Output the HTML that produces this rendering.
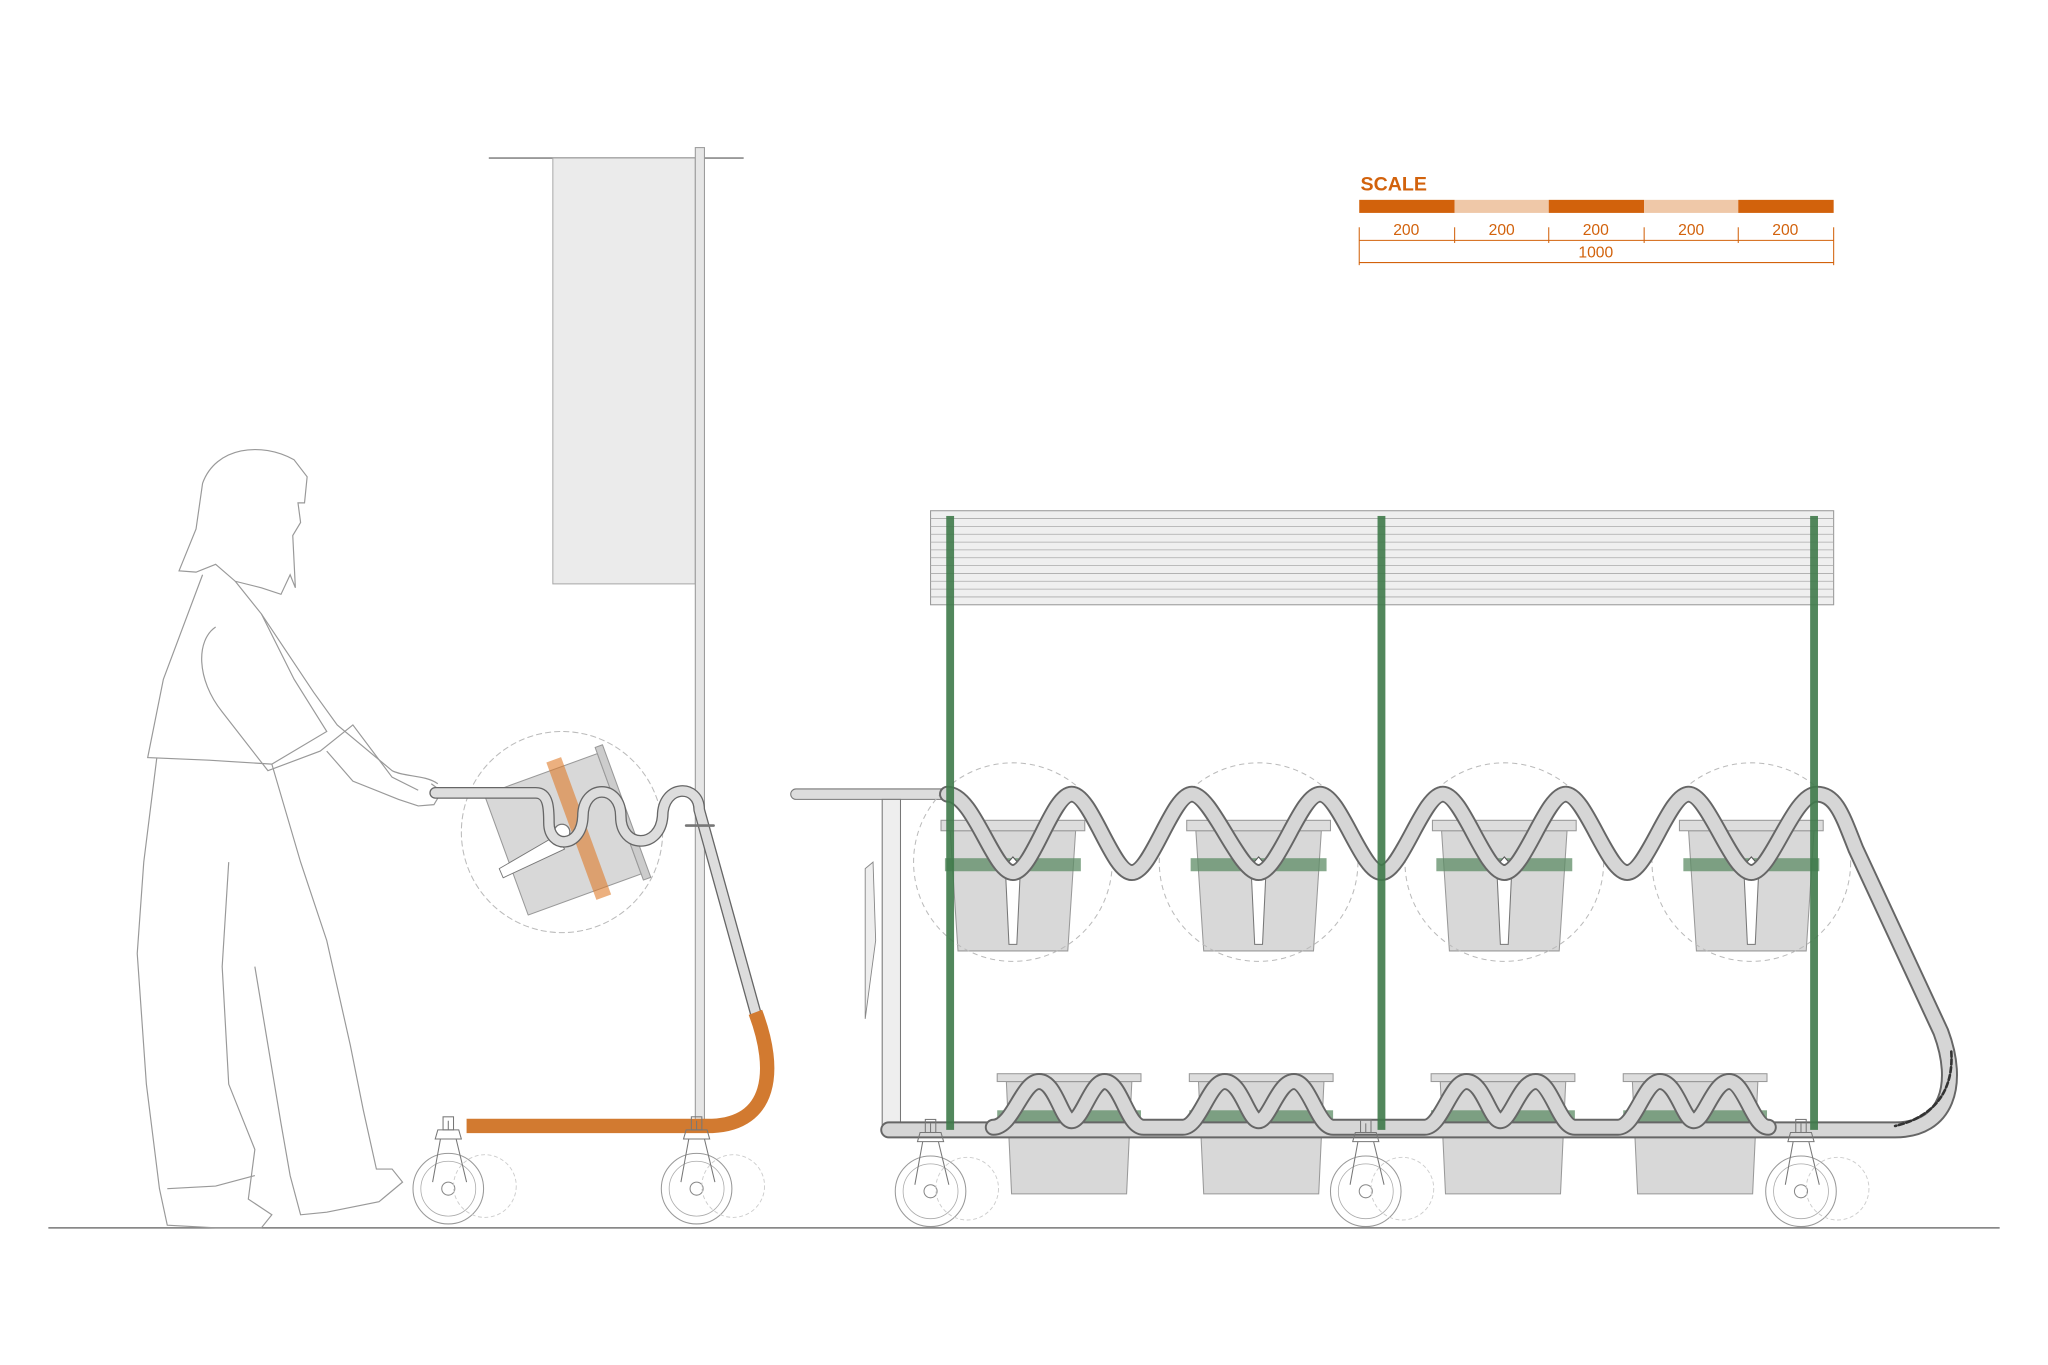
<!DOCTYPE html>
<html><head><meta charset="utf-8"><style>
html,body{margin:0;padding:0;background:#fff;}
svg{display:block;}
</style></head><body>
<svg width="2048" height="1365" viewBox="0 0 1567 1045" preserveAspectRatio="none" xmlns="http://www.w3.org/2000/svg" font-family="Liberation Sans, sans-serif">
<defs>
<g id="wheel">
 <circle cx="0" cy="0" r="27" fill="none" stroke="#999" stroke-width="0.8"/>
 <circle cx="0" cy="0" r="21" fill="none" stroke="#aaa" stroke-width="0.6"/>
 <circle cx="0" cy="0" r="5" fill="none" stroke="#888" stroke-width="0.8"/>
 <circle cx="28" cy="-2" r="24" fill="none" stroke="#ccc" stroke-width="0.7" stroke-dasharray="3 2"/>
 <path d="M-8,-45 L8,-45 L10,-38 L-10,-38 Z M-6,-38 L-12,-5 M6,-38 L14,-5 M0,-52 L0,-45" fill="none" stroke="#777" stroke-width="0.8"/>
 <rect x="-4" y="-55" width="8" height="10" fill="none" stroke="#777" stroke-width="0.8"/>
</g>
<g id="ubucket">
 <path d="M-48,6 L48,6 L42,98 L-42,98 Z" fill="#d8d8d8" stroke="#999" stroke-width="0.8"/>
 <rect x="-55" y="-2" width="110" height="8" fill="#ddd" stroke="#999" stroke-width="0.8"/>
 <rect x="-52" y="27" width="104" height="10" fill="#5e8c66" opacity="0.75"/>
 <path d="M-6,30 L6,30 L3,93 L-3,93 Z" fill="#fff" stroke="#777" stroke-width="0.8"/>
 <path d="M0,26 L6,33 L0,40 L-6,33 Z" fill="#fff" stroke="#555" stroke-width="0.8"/>
 <circle cx="0" cy="30" r="76" fill="none" stroke="#bbb" stroke-width="0.8" stroke-dasharray="4 3"/>
</g>
<g id="lbucket">
 <path d="M-48,6 L48,6 L44,92 L-44,92 Z" fill="#d8d8d8" stroke="#999" stroke-width="0.8"/>
 <rect x="-55" y="0" width="110" height="6" fill="#ddd" stroke="#999" stroke-width="0.8"/>
 <rect x="-55" y="28" width="110" height="10" fill="#5e8c66" opacity="0.75"/>
</g>
</defs>

<line x1="37" y1="940" x2="1530" y2="940" stroke="#777" stroke-width="1.2"/>

<text x="1041" y="146" font-size="15" font-weight="bold" fill="#d2620c">SCALE</text>
<rect x="1040" y="153" width="73" height="10" fill="#d2620c"/>
<rect x="1113" y="153" width="72" height="10" fill="#efc8a8"/>
<rect x="1185" y="153" width="73" height="10" fill="#d2620c"/>
<rect x="1258" y="153" width="72" height="10" fill="#efc8a8"/>
<rect x="1330" y="153" width="73" height="10" fill="#d2620c"/>
<g stroke="#d2620c" stroke-width="0.8" fill="none">
<line x1="1040" y1="184" x2="1403" y2="184"/>
<line x1="1040" y1="201" x2="1403" y2="201"/>
<line x1="1040" y1="174" x2="1040" y2="203"/>
<line x1="1113" y1="174" x2="1113" y2="186"/>
<line x1="1185" y1="174" x2="1185" y2="186"/>
<line x1="1258" y1="174" x2="1258" y2="186"/>
<line x1="1330" y1="174" x2="1330" y2="186"/>
<line x1="1403" y1="174" x2="1403" y2="203"/>
</g>
<g font-size="12" fill="#d2620c" text-anchor="middle">
<text x="1076" y="180">200</text><text x="1149" y="180">200</text><text x="1221" y="180">200</text><text x="1294" y="180">200</text><text x="1366" y="180">200</text>
<text x="1221" y="197">1000</text>
</g>

<line x1="374" y1="121" x2="569" y2="121" stroke="#999" stroke-width="1.5"/>
<rect x="423" y="121" width="109" height="326" fill="#ebebeb" stroke="#aaa" stroke-width="0.8"/>
<rect x="532" y="113" width="7" height="748" fill="#e6e6e6" stroke="#999" stroke-width="0.8"/>

<g fill="none" stroke="#999" stroke-width="0.9">
<path d="M137,437 L150,405 L155,370 C165,342 200,338 225,352 L235,365 L233,385 L228,385 L230,400 L224,410 L226,450 L222,440 L215,455 L200,450 L180,445 L165,432 L150,438 Z"/>
<path d="M155,440 L125,520 L113,580 L160,582 L208,585 L250,560 L225,520 L200,470 L180,445"/>
<path d="M165,480 C150,490 150,520 170,545 L205,590 L245,575 L270,555 L300,595 L320,605"/>
<path d="M200,470 L240,530 L258,555 L300,590 C310,595 325,593 335,600"/>
<path d="M330,600 L338,606 L332,616 L320,617 L305,612 L270,598 L250,575"/>
<path d="M120,580 L110,660 L105,730 L112,830 L122,910 L128,938 L165,940 L200,940 L208,930 L190,918 L195,880 L175,830 L170,740 L175,660"/>
<path d="M208,585 L230,660 L250,720 L268,800 L278,850 L288,895 L300,895 L308,905 L290,920 L250,928 L230,930 L222,900 L215,860 L205,800 L195,740"/>
<path d="M128,910 L165,908 L195,900"/>
</g>

<g fill="none" stroke-linecap="round" stroke-linejoin="round">
<g transform="rotate(-20 430 640)">
 <circle cx="430" cy="637" r="77" fill="none" stroke="#bbb" stroke-width="0.8" stroke-dasharray="4 3" transform="rotate(20 430 640)"/>
 <rect x="385" y="590" width="92" height="98" fill="#d8d8d8" stroke="#999" stroke-width="0.8"/>
 <rect x="477" y="585" width="6" height="108" fill="#ccc" stroke="#999" stroke-width="0.8"/>
 <rect x="438" y="583" width="12" height="112" fill="#e07c2a" opacity="0.6"/>
</g>
<path d="M382,665 L425,640 L432,650 L385,672 Z" fill="#fff" stroke="#777" stroke-width="0.7"/>
<circle cx="430" cy="637" r="6" fill="#fff" stroke="#777"/>
<path d="M333,607 L410,607 C420,607 420,620 420,630 C420,650 445,650 446,625 C446,600 475,600 475,625 C475,650 505,650 507,625 C507,600 535,600 535,620 L578,775" stroke="#666" stroke-width="9"/>
<path d="M333,607 L410,607 C420,607 420,620 420,630 C420,650 445,650 446,625 C446,600 475,600 475,625 C475,650 505,650 507,625 C507,600 535,600 535,620 L578,775" stroke="#ddd" stroke-width="7"/>
<line x1="525" y1="632" x2="546" y2="632" stroke="#777" stroke-width="2"/>
<path d="M578,775 C595,820 590,860 545,862 L357,862" stroke="#d27a30" stroke-width="11" stroke-linecap="butt"/>
</g>
<use href="#wheel" x="343" y="910"/>
<use href="#wheel" x="533" y="910"/>

<rect x="712" y="391" width="691" height="72" fill="#efefef" stroke="#999" stroke-width="0.8"/>
<g stroke="#aaa" stroke-width="0.6">
<line x1="712" y1="397" x2="1403" y2="397"/><line x1="712" y1="403" x2="1403" y2="403"/><line x1="712" y1="409" x2="1403" y2="409"/><line x1="712" y1="415" x2="1403" y2="415"/><line x1="712" y1="421" x2="1403" y2="421"/><line x1="712" y1="427" x2="1403" y2="427"/><line x1="712" y1="433" x2="1403" y2="433"/><line x1="712" y1="439" x2="1403" y2="439"/><line x1="712" y1="445" x2="1403" y2="445"/><line x1="712" y1="451" x2="1403" y2="451"/><line x1="712" y1="457" x2="1403" y2="457"/>
</g>

<rect x="605" y="604" width="122" height="8" rx="4" fill="#ddd" stroke="#777" stroke-width="0.8"/>
<rect x="675" y="612" width="14" height="250" fill="#eee" stroke="#777" stroke-width="0.8"/>
<path d="M662,665 L668,660 L670,720 L662,780 Z" fill="#eee" stroke="#888" stroke-width="0.7"/>

<use href="#ubucket" x="775" y="630"/>
<use href="#ubucket" x="963" y="630"/>
<use href="#ubucket" x="1151" y="630"/>
<use href="#ubucket" x="1340" y="630"/>
<use href="#lbucket" x="818" y="822"/>
<use href="#lbucket" x="965" y="822"/>
<use href="#lbucket" x="1150" y="822"/>
<use href="#lbucket" x="1297" y="822"/>

<g fill="none" stroke-linecap="round" stroke-linejoin="round">
<path d="M725,608 C745,608 760,668 775,668 C790,668 805,608 820,608 C835,608 851,668 866,668 C881,668 897,608 912,608 C927,608 948,668 963,668 C978,668 995,608 1010,608 C1025,608 1042,668 1057,668 C1072,668 1089,608 1104,608 C1119,608 1136,668 1151,668 C1166,668 1183,608 1198,608 C1213,608 1230,668 1245,668 C1260,668 1277,608 1292,608 C1307,608 1325,668 1340,668 C1355,668 1372,608 1390,608 C1405,608 1410,625 1420,650 L1485,790 C1500,830 1490,865 1450,865 L680,865" stroke="#666" stroke-width="13"/>
<path d="M725,608 C745,608 760,668 775,668 C790,668 805,608 820,608 C835,608 851,668 866,668 C881,668 897,608 912,608 C927,608 948,668 963,668 C978,668 995,608 1010,608 C1025,608 1042,668 1057,668 C1072,668 1089,608 1104,608 C1119,608 1136,668 1151,668 C1166,668 1183,608 1198,608 C1213,608 1230,668 1245,668 C1260,668 1277,608 1292,608 C1307,608 1325,668 1340,668 C1355,668 1372,608 1390,608 C1405,608 1410,625 1420,650 L1485,790 C1500,830 1490,865 1450,865 L680,865" stroke="#d6d6d6" stroke-width="10"/>
<path d="M760,863 C775,863 782,828 795,828 C808,828 812,858 820,858 C828,858 835,828 845,828 C858,828 862,863 875,863 L905,863 C918,863 925,828 937,828 C950,828 955,858 963,858 C971,858 978,828 990,828 C1002,828 1008,863 1020,863 L1090,863 C1103,863 1110,828 1122,828 C1135,828 1140,858 1148,858 C1156,858 1163,828 1175,828 C1187,828 1193,863 1205,863 L1238,863 C1251,863 1258,828 1270,828 C1283,828 1288,858 1296,858 C1304,858 1311,828 1323,828 C1335,828 1341,863 1353,863" stroke="#666" stroke-width="13"/>
<path d="M760,863 C775,863 782,828 795,828 C808,828 812,858 820,858 C828,858 835,828 845,828 C858,828 862,863 875,863 L905,863 C918,863 925,828 937,828 C950,828 955,858 963,858 C971,858 978,828 990,828 C1002,828 1008,863 1020,863 L1090,863 C1103,863 1110,828 1122,828 C1135,828 1140,858 1148,858 C1156,858 1163,828 1175,828 C1187,828 1193,863 1205,863 L1238,863 C1251,863 1258,828 1270,828 C1283,828 1288,858 1296,858 C1304,858 1311,828 1323,828 C1335,828 1341,863 1353,863" stroke="#d6d6d6" stroke-width="10"/>
<path d="M1493,805 C1495,835 1480,855 1450,862" stroke="#333" stroke-width="2" stroke-dasharray="4 2"/>
</g>

<rect x="724" y="395" width="6" height="470" fill="#3f7a4a" opacity="0.9"/>
<rect x="1054" y="395" width="6" height="470" fill="#3f7a4a" opacity="0.9"/>
<rect x="1385" y="395" width="6" height="470" fill="#3f7a4a" opacity="0.9"/>

<use href="#wheel" x="712" y="912"/>
<use href="#wheel" x="1045" y="912"/>
<use href="#wheel" x="1378" y="912"/>
</svg>
</body></html>
